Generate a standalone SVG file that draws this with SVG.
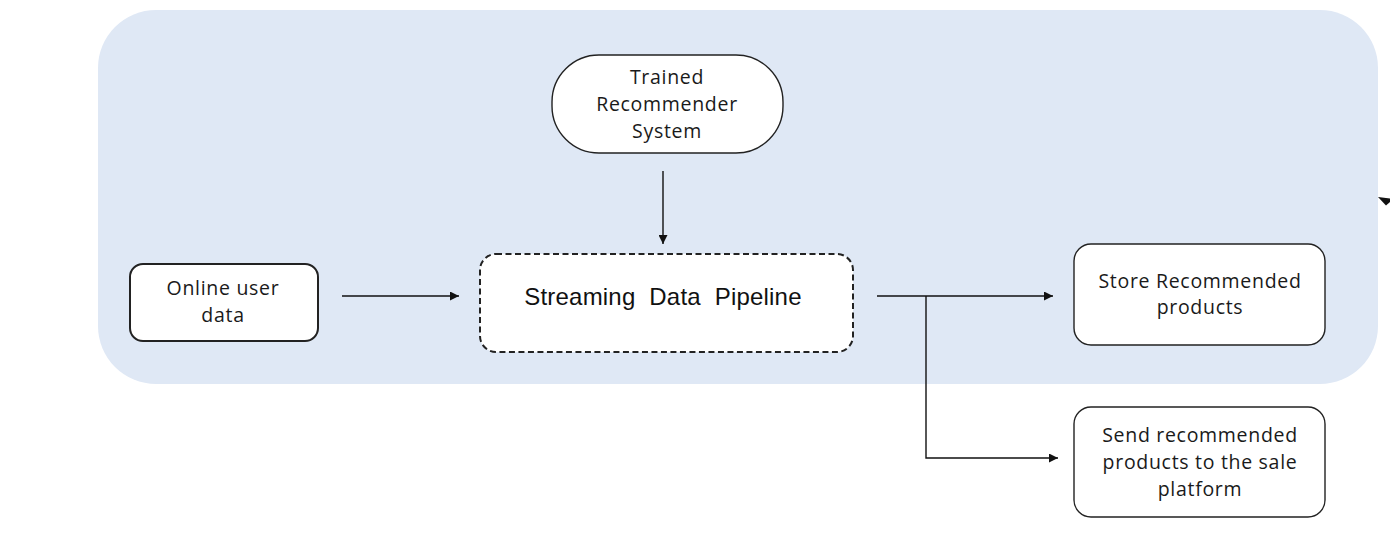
<svg xmlns="http://www.w3.org/2000/svg" width="1390" height="542" viewBox="0 0 1390 542">
  <style>
    .bg { fill: #dfe8f5; }
    .node { fill: #ffffff; stroke: #222222; stroke-width: 1.4; }
    .thick { stroke-width: 2; }
    .dashed { stroke-width: 2; stroke-dasharray: 6 3.5; }
    .lbl { font-family: "Open Sans", "Liberation Sans", sans-serif; font-size: 19.5px; fill: #1a1a1a; text-anchor: middle; letter-spacing: 0.7px; }
    .big { font-family: "Liberation Sans", Arial, sans-serif; font-size: 24px; fill: #111111; text-anchor: middle; word-spacing: 7px; letter-spacing: 0.2px; }
    .conn { fill: none; stroke: #111111; stroke-width: 1.4; }
  </style>
  <defs>
    <marker id="arrow" viewBox="0 0 10 10" refX="10" refY="5" markerWidth="11" markerHeight="9" markerUnits="userSpaceOnUse" orient="auto">
      <path d="M0,0 L10,5 L0,10 Z" fill="#111111"/>
    </marker>
  </defs>

  <rect class="bg" x="98" y="10" width="1280" height="374" rx="58" ry="58"/>

  <g id="connectors">
    <line class="conn" x1="663" y1="171" x2="663" y2="244" marker-end="url(#arrow)"/>
    <line class="conn" x1="342" y1="296" x2="459" y2="296" marker-end="url(#arrow)"/>
    <line class="conn" x1="877" y1="296" x2="1053" y2="296" marker-end="url(#arrow)"/>
    <polyline class="conn" points="926,296 926,458 1058,458" marker-end="url(#arrow)"/>
    <polygon points="1378,197 1390,198.5 1390,202 1386,205.5" fill="#111111"/>
  </g>

  <g id="trained">
    <rect class="node" x="552" y="55" width="231" height="98" rx="47" ry="47"/>
    <text class="lbl" x="667" y="84">Trained</text>
    <text class="lbl" x="667" y="111">Recommender</text>
    <text class="lbl" x="667" y="138">System</text>
  </g>

  <g id="online">
    <rect class="node thick" x="130" y="264" width="188" height="77" rx="13" ry="13"/>
    <text class="lbl" x="223" y="295">Online user</text>
    <text class="lbl" x="223" y="322">data</text>
  </g>

  <g id="pipeline">
    <rect class="node dashed" x="480" y="254" width="373" height="98" rx="16" ry="16"/>
    <text class="big" x="663" y="305">Streaming Data Pipeline</text>
  </g>

  <g id="store">
    <rect class="node" x="1074" y="244" width="251" height="101" rx="17" ry="17"/>
    <text class="lbl" x="1200" y="288">Store Recommended</text>
    <text class="lbl" x="1200" y="314">products</text>
  </g>

  <g id="send">
    <rect class="node" x="1074" y="407" width="251" height="110" rx="17" ry="17"/>
    <text class="lbl" x="1200" y="442">Send recommended</text>
    <text class="lbl" x="1200" y="469">products to the sale</text>
    <text class="lbl" x="1200" y="496">platform</text>
  </g>
</svg>
